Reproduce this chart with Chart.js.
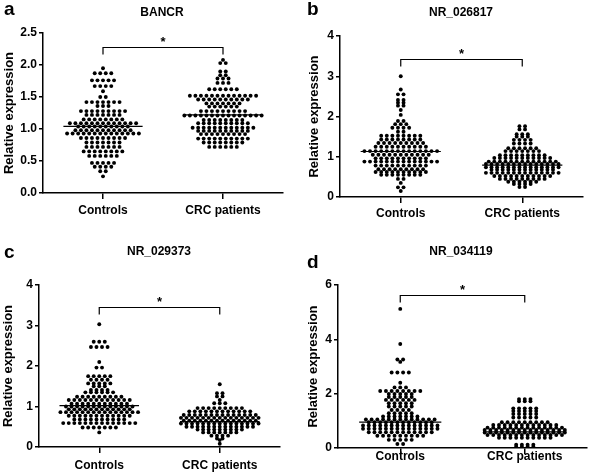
<!DOCTYPE html>
<html>
<head>
<meta charset="utf-8">
<script src="https://cdn.jsdelivr.net/npm/chart.js@4.4.1/dist/chart.umd.min.js"></script>
<style>
  body { margin: 0; background: #fff; }
  #wrap { position: relative; width: 591px; height: 475px; background: #fff; }
  #wrap canvas { position: absolute; }
</style>
</head>
<body>
<div id="wrap">
  <canvas id="pa" width="295" height="237" style="left:0;top:0"></canvas>
  <canvas id="pb" width="296" height="237" style="left:295px;top:0"></canvas>
  <canvas id="pc" width="295" height="238" style="left:0;top:237px"></canvas>
  <canvas id="pd" width="296" height="238" style="left:295px;top:237px"></canvas>
</div>
<script>
// Categories on the x axis
const categories = ['Controls', 'CRC patients'];

// Dot plot rows: [relative expression, number of dots in the row]
const bancrControls = [[1.95,1],[1.87,4],[1.76,5],[1.67,4],[1.59,1],[1.50,2],[1.42,7],[1.36,3],[1.28,9],[1.22,7],[1.15,8],[1.09,13],[1.04,10],[0.98,11],[0.93,14],[0.86,9],[0.79,7],[0.72,7],[0.65,8],[0.58,6],[0.47,5],[0.41,4],[0.34,2],[0.26,1]];
const bancrCrc = [[2.08,1],[2.03,2],[1.90,2],[1.84,2],[1.79,3],[1.72,3],[1.62,6],[1.52,13],[1.46,10],[1.40,7],[1.35,6],[1.28,9],[1.21,15],[1.14,8],[1.09,10],[1.02,12],[0.97,10],[0.92,9],[0.85,10],[0.79,8],[0.72,6]];

const nr026817Controls = [[3.0,1],[2.67,1],[2.55,2],[2.41,2],[2.34,2],[2.27,2],[2.16,1],[2.04,1],[1.89,2],[1.81,3],[1.72,4],[1.62,2],[1.52,8],[1.43,8],[1.34,9],[1.25,10],[1.14,14],[1.05,11],[0.96,10],[0.88,14],[0.78,10],[0.69,9],[0.62,10],[0.55,8],[0.45,2],[0.35,1],[0.24,2],[0.15,1]];
const nr026817Crc = [[1.76,2],[1.68,2],[1.56,3],[1.50,3],[1.42,4],[1.33,4],[1.21,6],[1.14,7],[1.04,9],[0.97,11],[0.88,13],[0.82,14],[0.74,14],[0.68,12],[0.60,14],[0.52,11],[0.45,9],[0.38,6],[0.32,4],[0.25,2]];

const nr029373Controls = [[3.03,1],[2.60,3],[2.47,4],[2.10,1],[1.96,2],[1.75,5],[1.66,4],[1.57,5],[1.50,3],[1.41,4],[1.35,6],[1.24,9],[1.16,12],[1.07,11],[1.0,13],[0.93,12],[0.86,15],[0.77,12],[0.68,10],[0.59,14],[0.48,7],[0.36,1]];
const nr029373Crc = [[1.55,1],[1.33,2],[1.25,2],[1.16,1],[1.08,3],[0.96,9],[0.88,12],[0.79,14],[0.72,15],[0.65,14],[0.58,15],[0.50,13],[0.43,9],[0.36,7],[0.28,4],[0.21,2],[0.17,1],[0.08,1]];

const nr034119Controls = [[5.12,1],[3.83,1],[3.26,2],[3.17,1],[2.78,4],[2.40,1],[2.23,3],[2.10,8],[1.99,5],[1.88,5],[1.77,6],[1.65,5],[1.53,5],[1.40,4],[1.28,5],[1.16,7],[1.05,13],[0.95,12],[0.83,14],[0.71,14],[0.58,12],[0.45,9],[0.30,5],[0.15,2]];
const nr034119Crc = [[1.80,3],[1.72,3],[1.46,5],[1.36,5],[1.25,5],[1.12,5],[0.95,9],[0.85,12],[0.75,14],[0.66,15],[0.57,15],[0.48,14],[0.38,10],[0.12,4],[0.05,4]];

// Medians (horizontal bars) per panel: [Controls, CRC patients]
const bancrMedians = [1.04, 1.22];
const nr026817Medians = [1.13, 0.79];
const nr029373Medians = [1.02, 0.63];
const nr034119Medians = [0.95, 0.59];

// Y tick values and the level of the significance bracket
const bancrTicks = [0, 0.5, 1.0, 1.5, 2.0, 2.5];
const nr026817Ticks = [0, 1, 2, 3, 4];
const nr029373Ticks = [0, 1, 2, 3, 4];
const nr034119Ticks = [0, 2, 4, 6];
const bracketLevels = [2.28, 3.43, 3.46, 5.63];

Chart.defaults.font.family = "'Liberation Sans', Arial, sans-serif";
Chart.defaults.color = '#000';

const DX = 0.046;   // horizontal spacing of dots in a row (x units)
const HALF = 0.33;  // half width of the median bar

function swarm(rows, cat) {
    var pts = [];
    rows.forEach(function (r) {
        for (var i = 0; i < r[1]; i++) {
            pts.push({ x: cat + (i - (r[1] - 1) / 2) * DX, y: r[0] });
        }
    });
    return pts;
}

// Letter, gene title, bracket and star
const decor = {
    id: 'decor',
    afterDraw: function (chart) {
        var p = chart.options.plugins.decor;
        var ctx = chart.ctx;
        var xs = chart.scales.x, ys = chart.scales.y;
        ctx.save();
        ctx.fillStyle = '#000';
        ctx.font = 'bold 19px ' + Chart.defaults.font.family;
        ctx.textAlign = 'left';
        ctx.textBaseline = 'alphabetic';
        ctx.fillText(p.letter, p.letterX, p.letterY);

        ctx.font = 'bold 12px ' + Chart.defaults.font.family;
        ctx.textAlign = 'center';
        ctx.textBaseline = 'middle';
        ctx.fillText(p.title, p.titleX, p.titleY);

        var x0 = xs.getPixelForValue(0), x1 = xs.getPixelForValue(1);
        var yb = Math.round(ys.getPixelForValue(p.bracket)) + 0.5;
        ctx.strokeStyle = '#000';
        ctx.lineWidth = 1.2;
        ctx.beginPath();
        ctx.moveTo(x0, yb + 7);
        ctx.lineTo(x0, yb);
        ctx.lineTo(x1, yb);
        ctx.lineTo(x1, yb + 7);
        ctx.stroke();
        ctx.font = 'bold 13px ' + Chart.defaults.font.family;
        ctx.fillText('*', (x0 + x1) / 2, yb - 5);
        ctx.restore();
    }
};

function makePanel(id, p) {
    var canvas = document.getElementById(id);
    var H = canvas.height;
    var bold = { size: 12, weight: 'bold' };
    return new Chart(canvas, {
        type: 'scatter',
        data: {
            datasets: [
                { data: swarm(p.controls, 0), pointRadius: 1.95, backgroundColor: '#000', borderWidth: 0 },
                { data: swarm(p.crc, 1), pointRadius: 1.95, backgroundColor: '#000', borderWidth: 0 },
                { type: 'line', data: [{ x: -HALF, y: p.medians[0] }, { x: HALF, y: p.medians[0] }], borderColor: '#000', borderWidth: 1.2, pointRadius: 0 },
                { type: 'line', data: [{ x: 1 - HALF, y: p.medians[1] }, { x: 1 + HALF, y: p.medians[1] }], borderColor: '#000', borderWidth: 1.2, pointRadius: 0 }
            ]
        },
        options: {
            responsive: false,
            animation: false,
            layout: { padding: { top: p.top, right: canvas.width - p.right, left: p.left, bottom: 0 } },
            plugins: {
                legend: { display: false },
                tooltip: { enabled: false },
                decor: p
            },
            scales: {
                x: {
                    type: 'linear',
                    min: -0.5,
                    max: 1.5,
                    afterBuildTicks: function (s) { s.ticks = [{ value: 0 }, { value: 1 }]; },
                    afterFit: function (s) { s.height = H - p.bottom; },
                    ticks: {
                        autoSkip: false,
                        maxRotation: 0,
                        padding: p.xPad,
                        font: bold,
                        callback: function (v, i) { return categories[i]; }
                    },
                    grid: { drawOnChartArea: false, tickLength: 6, color: '#000', lineWidth: 1.5 },
                    border: { color: '#000', width: 1.5 }
                },
                y: {
                    min: 0,
                    max: p.ticks[p.ticks.length - 1],
                    afterBuildTicks: function (s) { s.ticks = p.ticks.map(function (v) { return { value: v }; }); },
                    afterFit: function (s) { s.width = p.axisX - p.left; },
                    ticks: {
                        padding: 2,
                        font: bold,
                        callback: function (v) { return p.decimals ? v.toFixed(1) : String(v); }
                    },
                    grid: { drawOnChartArea: false, tickLength: 4, color: '#000', lineWidth: 1.5 },
                    border: { color: '#000', width: 1.5 },
                    title: { display: true, text: 'Relative expression', font: { size: 13, weight: 'bold' }, padding: { top: 0, bottom: 0 } }
                }
            }
        },
        plugins: [decor]
    });
}

makePanel('pa', {
    letter: 'a', letterX: 4, letterY: 15, title: 'BANCR', titleX: 162, titleY: 13,
    controls: bancrControls, crc: bancrCrc, medians: bancrMedians, ticks: bancrTicks, decimals: true,
    bracket: bracketLevels[0], left: 2, axisX: 43, top: 33, bottom: 193, right: 283, xPad: 4
});
makePanel('pb', {
    letter: 'b', letterX: 12, letterY: 15, title: 'NR_026817', titleX: 166, titleY: 13,
    controls: nr026817Controls, crc: nr026817Crc, medians: nr026817Medians, ticks: nr026817Ticks, decimals: false,
    bracket: bracketLevels[1], left: 12, axisX: 45, top: 36, bottom: 197, right: 288, xPad: 3
});
makePanel('pc', {
    letter: 'c', letterX: 4, letterY: 21, title: 'NR_029373', titleX: 159, titleY: 15,
    controls: nr029373Controls, crc: nr029373Crc, medians: nr029373Medians, ticks: nr029373Ticks, decimals: false,
    bracket: bracketLevels[2], left: 1, axisX: 39, top: 48, bottom: 210, right: 280, xPad: 5
});
makePanel('pd', {
    letter: 'd', letterX: 12, letterY: 31, title: 'NR_034119', titleX: 166, titleY: 15,
    controls: nr034119Controls, crc: nr034119Crc, medians: nr034119Medians, ticks: nr034119Ticks, decimals: false,
    bracket: bracketLevels[3], left: 11, axisX: 43, top: 48, bottom: 211, right: 293, xPad: -5
});
</script>
</body>
</html>
